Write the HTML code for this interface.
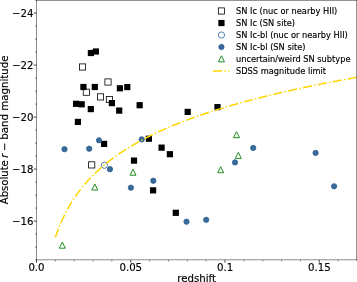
<!DOCTYPE html>
<html><head><meta charset="utf-8"><title>Absolute r-band magnitude vs redshift</title>
<style>html,body{margin:0;padding:0;background:#fff;overflow:hidden}svg{display:block;will-change:transform}text{font-family:"DejaVu Sans","Liberation Sans",sans-serif;fill:#000;stroke:#000;stroke-width:0.15px}</style></head><body>
<svg width="357" height="282" viewBox="0 0 357 282">
<rect width="357" height="282" fill="#fff"/>
<g>
<rect x="79.40" y="63.90" width="6.2" height="6.2" fill="#fff" stroke="#000" stroke-width="0.8"/>
<rect x="104.90" y="78.90" width="6.2" height="6.2" fill="#fff" stroke="#000" stroke-width="0.8"/>
<rect x="83.25" y="89.10" width="6.2" height="6.2" fill="#fff" stroke="#000" stroke-width="0.8"/>
<rect x="97.40" y="93.80" width="6.2" height="6.2" fill="#fff" stroke="#000" stroke-width="0.8"/>
<rect x="106.30" y="96.40" width="6.2" height="6.2" fill="#fff" stroke="#000" stroke-width="0.8"/>
<rect x="88.60" y="161.80" width="6.2" height="6.2" fill="#fff" stroke="#000" stroke-width="0.8"/>
<rect x="87.80" y="49.90" width="6.2" height="6.2" fill="#000"/>
<rect x="92.80" y="48.40" width="6.2" height="6.2" fill="#000"/>
<rect x="80.30" y="83.90" width="6.2" height="6.2" fill="#000"/>
<rect x="91.70" y="83.90" width="6.2" height="6.2" fill="#000"/>
<rect x="116.80" y="85.20" width="6.2" height="6.2" fill="#000"/>
<rect x="124.20" y="84.00" width="6.2" height="6.2" fill="#000"/>
<rect x="108.80" y="100.00" width="6.2" height="6.2" fill="#000"/>
<rect x="73.00" y="100.70" width="6.2" height="6.2" fill="#000"/>
<rect x="78.60" y="101.20" width="6.2" height="6.2" fill="#000"/>
<rect x="87.70" y="106.00" width="6.2" height="6.2" fill="#000"/>
<rect x="116.10" y="107.50" width="6.2" height="6.2" fill="#000"/>
<rect x="136.55" y="102.10" width="6.2" height="6.2" fill="#000"/>
<rect x="74.80" y="118.80" width="6.2" height="6.2" fill="#000"/>
<rect x="184.60" y="108.80" width="6.2" height="6.2" fill="#000"/>
<rect x="214.40" y="104.00" width="6.2" height="6.2" fill="#000"/>
<rect x="145.80" y="135.60" width="6.2" height="6.2" fill="#000"/>
<rect x="158.50" y="144.55" width="6.2" height="6.2" fill="#000"/>
<rect x="166.80" y="151.10" width="6.2" height="6.2" fill="#000"/>
<rect x="130.90" y="157.50" width="6.2" height="6.2" fill="#000"/>
<rect x="101.00" y="140.80" width="6.2" height="6.2" fill="#000"/>
<rect x="150.00" y="187.25" width="6.2" height="6.2" fill="#000"/>
<rect x="172.70" y="209.70" width="6.2" height="6.2" fill="#000"/>
<circle cx="104.40" cy="165.30" r="3.0999999999999996" fill="#fff" stroke="#2e6295" stroke-width="0.8"/>
<circle cx="64.50" cy="149.20" r="2.65" fill="#3a6a9a" stroke="#2b6196" stroke-width="0.8"/>
<circle cx="89.20" cy="148.70" r="2.65" fill="#3a6a9a" stroke="#2b6196" stroke-width="0.8"/>
<circle cx="99.00" cy="140.30" r="2.65" fill="#3a6a9a" stroke="#2b6196" stroke-width="0.8"/>
<circle cx="141.70" cy="139.35" r="2.65" fill="#3a6a9a" stroke="#2b6196" stroke-width="0.8"/>
<circle cx="109.95" cy="169.20" r="2.65" fill="#3a6a9a" stroke="#2b6196" stroke-width="0.8"/>
<circle cx="153.30" cy="180.75" r="2.65" fill="#3a6a9a" stroke="#2b6196" stroke-width="0.8"/>
<circle cx="130.90" cy="187.65" r="2.65" fill="#3a6a9a" stroke="#2b6196" stroke-width="0.8"/>
<circle cx="186.50" cy="221.70" r="2.65" fill="#3a6a9a" stroke="#2b6196" stroke-width="0.8"/>
<circle cx="206.20" cy="219.80" r="2.65" fill="#3a6a9a" stroke="#2b6196" stroke-width="0.8"/>
<circle cx="253.20" cy="147.90" r="2.65" fill="#3a6a9a" stroke="#2b6196" stroke-width="0.8"/>
<circle cx="235.00" cy="162.40" r="2.65" fill="#3a6a9a" stroke="#2b6196" stroke-width="0.8"/>
<circle cx="315.60" cy="152.90" r="2.65" fill="#3a6a9a" stroke="#2b6196" stroke-width="0.8"/>
<circle cx="334.10" cy="186.30" r="2.65" fill="#3a6a9a" stroke="#2b6196" stroke-width="0.8"/>
<path d="M62.30 242.20L59.30 248.20L65.30 248.20Z" fill="#fff" stroke="#1f8f1f" stroke-width="1.0" stroke-linejoin="miter"/>
<path d="M94.80 184.00L91.80 190.00L97.80 190.00Z" fill="#fff" stroke="#1f8f1f" stroke-width="1.0" stroke-linejoin="miter"/>
<path d="M133.00 169.20L130.00 175.20L136.00 175.20Z" fill="#fff" stroke="#1f8f1f" stroke-width="1.0" stroke-linejoin="miter"/>
<path d="M236.50 131.70L233.50 137.70L239.50 137.70Z" fill="#fff" stroke="#1f8f1f" stroke-width="1.0" stroke-linejoin="miter"/>
<path d="M238.30 152.40L235.30 158.40L241.30 158.40Z" fill="#fff" stroke="#1f8f1f" stroke-width="1.0" stroke-linejoin="miter"/>
<path d="M220.70 166.70L217.70 172.70L223.70 172.70Z" fill="#fff" stroke="#1f8f1f" stroke-width="1.0" stroke-linejoin="miter"/>
</g>
<polyline points="55.35,237.29 56.87,232.92 58.38,228.87 59.90,225.09 61.42,221.54 62.93,218.21 64.45,215.06 65.96,212.08 67.48,209.25 69.00,206.55 70.51,203.97 72.03,201.51 73.54,199.15 75.06,196.89 76.57,194.71 78.09,192.62 79.61,190.60 81.12,188.64 82.64,186.76 84.15,184.93 85.67,183.17 87.19,181.45 88.70,179.79 90.22,178.17 91.73,176.60 93.25,175.07 94.76,173.58 96.28,172.13 97.80,170.72 99.31,169.34 100.83,167.99 102.34,166.68 103.86,165.39 105.37,164.14 106.89,162.91 108.41,161.71 109.92,160.53 111.44,159.37 112.95,158.24 114.47,157.13 115.99,156.05 117.50,154.98 119.02,153.93 120.53,152.91 122.05,151.90 123.56,150.91 125.08,149.93 126.60,148.97 128.11,148.03 129.63,147.10 131.14,146.19 132.66,145.30 134.18,144.41 135.69,143.54 137.21,142.69 138.72,141.84 140.24,141.01 141.75,140.19 143.27,139.39 144.79,138.59 146.30,137.81 147.82,137.03 149.33,136.27 150.85,135.52 152.37,134.77 153.88,134.04 155.40,133.31 156.91,132.60 158.43,131.89 159.94,131.19 161.46,130.51 162.98,129.82 164.49,129.15 166.01,128.49 167.52,127.83 169.04,127.18 170.55,126.54 172.07,125.90 173.59,125.28 175.10,124.66 176.62,124.04 178.13,123.43 179.65,122.83 181.17,122.24 182.68,121.65 184.20,121.07 185.71,120.49 187.23,119.92 188.74,119.35 190.26,118.80 191.78,118.24 193.29,117.69 194.81,117.15 196.32,116.61 197.84,116.08 199.36,115.55 200.87,115.03 202.39,114.51 203.90,114.00 205.42,113.49 206.93,112.98 208.45,112.48 209.97,111.99 211.48,111.50 213.00,111.01 214.51,110.53 216.03,110.05 217.55,109.57 219.06,109.10 220.58,108.64 222.09,108.17 223.61,107.71 225.12,107.26 226.64,106.81 228.16,106.36 229.67,105.91 231.19,105.47 232.70,105.03 234.22,104.60 235.73,104.17 237.25,103.74 238.77,103.32 240.28,102.89 241.80,102.48 243.31,102.06 244.83,101.65 246.35,101.24 247.86,100.83 249.38,100.43 250.89,100.03 252.41,99.63 253.92,99.24 255.44,98.84 256.96,98.45 258.47,98.07 259.99,97.68 261.50,97.30 263.02,96.92 264.54,96.55 266.05,96.17 267.57,95.80 269.08,95.43 270.60,95.06 272.11,94.70 273.63,94.34 275.15,93.98 276.66,93.62 278.18,93.26 279.69,92.91 281.21,92.56 282.73,92.21 284.24,91.87 285.76,91.52 287.27,91.18 288.79,90.84 290.30,90.50 291.82,90.16 293.34,89.83 294.85,89.50 296.37,89.17 297.88,88.84 299.40,88.51 300.91,88.19 302.43,87.87 303.95,87.54 305.46,87.23 306.98,86.91 308.49,86.59 310.01,86.28 311.53,85.97 313.04,85.66 314.56,85.35 316.07,85.04 317.59,84.74 319.10,84.43 320.62,84.13 322.14,83.83 323.65,83.53 325.17,83.23 326.68,82.94 328.20,82.64 329.72,82.35 331.23,82.06 332.75,81.77 334.26,81.48 335.78,81.20 337.29,80.91 338.81,80.63 340.33,80.34 341.84,80.06 343.36,79.78 344.87,79.51 346.39,79.23 347.91,78.95 349.42,78.68 350.94,78.41 352.45,78.13 353.97,77.86 355.48,77.60 357.00,77.33" fill="none" stroke="#FFD500" stroke-width="1.5" stroke-dasharray="9.17 2.29 1.43 2.29" clip-path="url(#ax)"/>
<defs><clipPath id="ax"><rect x="36.55" y="0.2" width="320.25" height="259.7"/></clipPath></defs>
<g stroke="#000" stroke-width="0.72" fill="none">
<line x1="36.50" y1="259.9" x2="36.50" y2="262.7"/>
<line x1="55.35" y1="259.9" x2="55.35" y2="261.4" stroke-width="0.5"/>
<line x1="74.21" y1="259.9" x2="74.21" y2="261.4" stroke-width="0.5"/>
<line x1="93.06" y1="259.9" x2="93.06" y2="261.4" stroke-width="0.5"/>
<line x1="111.91" y1="259.9" x2="111.91" y2="261.4" stroke-width="0.5"/>
<line x1="130.76" y1="259.9" x2="130.76" y2="262.7"/>
<line x1="149.62" y1="259.9" x2="149.62" y2="261.4" stroke-width="0.5"/>
<line x1="168.47" y1="259.9" x2="168.47" y2="261.4" stroke-width="0.5"/>
<line x1="187.32" y1="259.9" x2="187.32" y2="261.4" stroke-width="0.5"/>
<line x1="206.18" y1="259.9" x2="206.18" y2="261.4" stroke-width="0.5"/>
<line x1="225.03" y1="259.9" x2="225.03" y2="262.7"/>
<line x1="243.88" y1="259.9" x2="243.88" y2="261.4" stroke-width="0.5"/>
<line x1="262.74" y1="259.9" x2="262.74" y2="261.4" stroke-width="0.5"/>
<line x1="281.59" y1="259.9" x2="281.59" y2="261.4" stroke-width="0.5"/>
<line x1="300.44" y1="259.9" x2="300.44" y2="261.4" stroke-width="0.5"/>
<line x1="319.29" y1="259.9" x2="319.29" y2="262.7"/>
<line x1="338.15" y1="259.9" x2="338.15" y2="261.4" stroke-width="0.5"/>
<line x1="357.00" y1="259.9" x2="357.00" y2="261.4" stroke-width="0.5"/>
<line x1="36.55" y1="0.10" x2="35.05" y2="0.10" stroke-width="0.5"/>
<line x1="36.55" y1="13.10" x2="33.75" y2="13.10"/>
<line x1="36.55" y1="26.10" x2="35.05" y2="26.10" stroke-width="0.5"/>
<line x1="36.55" y1="39.10" x2="35.05" y2="39.10" stroke-width="0.5"/>
<line x1="36.55" y1="52.10" x2="35.05" y2="52.10" stroke-width="0.5"/>
<line x1="36.55" y1="65.10" x2="33.75" y2="65.10"/>
<line x1="36.55" y1="78.10" x2="35.05" y2="78.10" stroke-width="0.5"/>
<line x1="36.55" y1="91.10" x2="35.05" y2="91.10" stroke-width="0.5"/>
<line x1="36.55" y1="104.10" x2="35.05" y2="104.10" stroke-width="0.5"/>
<line x1="36.55" y1="117.10" x2="33.75" y2="117.10"/>
<line x1="36.55" y1="130.10" x2="35.05" y2="130.10" stroke-width="0.5"/>
<line x1="36.55" y1="143.10" x2="35.05" y2="143.10" stroke-width="0.5"/>
<line x1="36.55" y1="156.10" x2="35.05" y2="156.10" stroke-width="0.5"/>
<line x1="36.55" y1="169.10" x2="33.75" y2="169.10"/>
<line x1="36.55" y1="182.10" x2="35.05" y2="182.10" stroke-width="0.5"/>
<line x1="36.55" y1="195.10" x2="35.05" y2="195.10" stroke-width="0.5"/>
<line x1="36.55" y1="208.10" x2="35.05" y2="208.10" stroke-width="0.5"/>
<line x1="36.55" y1="221.10" x2="33.75" y2="221.10"/>
<line x1="36.55" y1="234.10" x2="35.05" y2="234.10" stroke-width="0.5"/>
<line x1="36.55" y1="247.10" x2="35.05" y2="247.10" stroke-width="0.5"/>
<line x1="36.55" y1="260.10" x2="35.05" y2="260.10" stroke-width="0.5"/>
<rect x="36.55" y="0.2" width="320.25" height="259.7" stroke-width="0.45"/>
</g>
<g font-size="10.2">
<text x="36.50" y="270.75" text-anchor="middle">0.0</text>
<text x="130.76" y="270.75" text-anchor="middle">0.05</text>
<text x="225.03" y="270.75" text-anchor="middle">0.1</text>
<text x="319.29" y="270.75" text-anchor="middle">0.15</text>
<text x="33.4" y="16.90" text-anchor="end">−24</text>
<text x="33.4" y="68.90" text-anchor="end">−22</text>
<text x="33.4" y="120.90" text-anchor="end">−20</text>
<text x="33.4" y="172.90" text-anchor="end">−18</text>
<text x="33.4" y="224.90" text-anchor="end">−16</text>
</g>
<text x="196.68" y="281.8" font-size="10.2" text-anchor="middle">redshift</text>
<g transform="translate(7.8 204.15) rotate(-90)" font-size="10.05">
<text x="0" y="0">Absolute</text>
<text x="46.35" y="0" font-style="italic">r</text>
<text x="53.2" y="0">−</text>
<text x="64.4" y="0" font-size="10.22">band magnitude</text>
</g>
<rect x="218.35" y="7.90" width="6.2" height="6.2" fill="#fff" stroke="#000" stroke-width="0.8"/>
<rect x="218.35" y="19.90" width="6.2" height="6.2" fill="#000"/>
<circle cx="221.45" cy="35.00" r="3.0999999999999996" fill="#fff" stroke="#2e6295" stroke-width="0.8"/>
<circle cx="221.45" cy="47.00" r="2.65" fill="#3a6a9a" stroke="#2b6196" stroke-width="0.8"/>
<path d="M221.45 55.85L218.45 61.85L224.45 61.85Z" fill="#fff" stroke="#1f8f1f" stroke-width="1.0" stroke-linejoin="miter"/>
<line x1="213.0" y1="71.0" x2="229.4" y2="71.0" stroke="#FFD500" stroke-width="1.45" stroke-dasharray="9.17 2.29 1.43 2.29"/>
<g font-size="8.26">
<text x="236.0" y="14.10">SN Ic (nuc or nearby HII)</text>
<text x="236.0" y="26.10">SN Ic (SN site)</text>
<text x="236.0" y="38.10">SN Ic-bl (nuc or nearby HII)</text>
<text x="236.0" y="50.10">SN Ic-bl (SN site)</text>
<text x="236.0" y="62.10">uncertain/weird SN subtype</text>
<text x="236.0" y="74.10">SDSS magnitude limit</text>
</g>
</svg></body></html>
